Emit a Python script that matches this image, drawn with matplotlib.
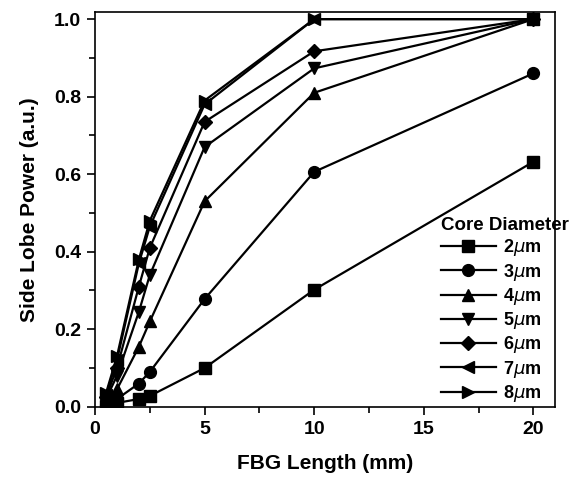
import matplotlib
matplotlib.use("Agg")
import matplotlib.pyplot as plt
from matplotlib.ticker import MultipleLocator

plt.rcParams['font.family'] = ['Liberation Sans', 'DejaVu Sans']
plt.rcParams['font.weight'] = 'bold'
plt.rcParams['mathtext.fontset'] = 'custom'
plt.rcParams['mathtext.it'] = 'DejaVu Sans:style=italic:weight=normal'
plt.rcParams['mathtext.rm'] = 'Liberation Sans:weight=bold'
plt.rcParams['mathtext.default'] = 'it'

lengths = [0.5, 1, 2, 2.5, 5, 10, 20]
labels = ['2$\\mu$m', '3$\\mu$m', '4$\\mu$m', '5$\\mu$m', '6$\\mu$m', '7$\\mu$m', '8$\\mu$m']
markers = ['s', 'o', '^', 'v', 'D', '<', '>']
p2 = [0.003, 0.01, 0.02, 0.028, 0.10, 0.302, 0.632]
p3 = [0.005, 0.02, 0.06, 0.09, 0.278, 0.606, 0.86]
p4 = [0.012, 0.045, 0.155, 0.22, 0.53, 0.81, 1.0]
p5 = [0.02, 0.08, 0.245, 0.34, 0.67, 0.873, 1.0]
p6 = [0.025, 0.10, 0.31, 0.41, 0.735, 0.917, 1.0]
p7 = [0.03, 0.12, 0.37, 0.465, 0.78, 1.0, 1.0]
p8 = [0.035, 0.13, 0.38, 0.48, 0.79, 1.0, 1.0]
series = [p2, p3, p4, p5, p6, p7, p8]

fig = plt.figure(figsize=(5.76, 4.86), dpi=100)
ax = fig.add_axes([0.165, 0.163, 0.799, 0.812])

for vals, m, lab in zip(series, markers, labels):
    ms = 7.5 if m == 'D' else 8.5
    ax.plot(lengths, vals, color='black', lw=1.6, marker=m, ms=ms, label=lab)

ax.set_xlim(0, 21)
ax.set_ylim(0, 1.018)
ax.xaxis.set_major_locator(MultipleLocator(5))
ax.xaxis.set_minor_locator(MultipleLocator(2.5))
ax.yaxis.set_major_locator(MultipleLocator(0.2))
ax.yaxis.set_minor_locator(MultipleLocator(0.1))
ax.yaxis.set_major_formatter(matplotlib.ticker.FormatStrFormatter('%.1f'))
ax.tick_params(which='major', direction='out', length=6, width=1.2, labelsize=14, pad=4)
ax.tick_params(which='minor', direction='out', length=4, width=1.2)
ax.tick_params(top=False, right=False)
for s in ax.spines.values():
    s.set_linewidth(1.2)

ax.set_xlabel('FBG Length (mm)', fontsize=15, fontweight='bold', labelpad=12)
ax.set_ylabel('Side Lobe Power (a.u.)', fontsize=15, fontweight='bold', labelpad=11)

leg = ax.legend(title='Core Diameter', loc='lower right', bbox_to_anchor=(1.054, -0.02),
                frameon=False, fontsize=13, title_fontsize=13.5,
                handlelength=3.0, handletextpad=0.4, labelspacing=0.18, borderaxespad=0.2)
leg._legend_box.align = 'left'
for t in leg.get_texts():
    t.set_fontweight('bold')
leg.get_title().set_fontweight('bold')

fig.savefig('out.png', dpi=100)
